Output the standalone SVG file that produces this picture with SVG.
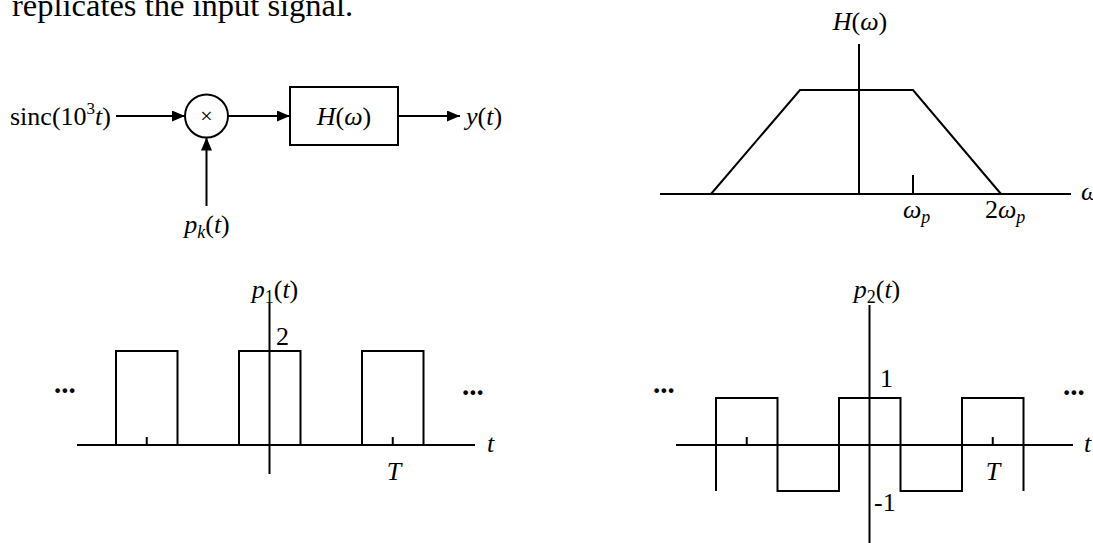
<svg xmlns="http://www.w3.org/2000/svg" width="1093" height="543" viewBox="0 0 1093 543">
<style>
.ln{stroke:#000;stroke-width:2;fill:none}
.t{font-family:"Liberation Serif","Times New Roman",serif;font-size:26px;fill:#000}
.i{font-style:italic}
.dots{font-family:"Liberation Serif","Times New Roman",serif;font-size:29px;font-weight:bold;fill:#000}
</style>
<defs>
<marker id="ah" markerUnits="userSpaceOnUse" markerWidth="13" markerHeight="11" refX="13" refY="5.5" orient="auto">
<path d="M0,0 L13,5.5 L0,11 z" fill="#000"/>
</marker>
</defs>
<rect width="1093" height="543" fill="#fff"/>
<text x="12" y="16" class="t" style="font-size:32.5px">replicates the input signal.</text>

<g id="input-label"><text x="10" y="125" class="t">sinc(10<tspan font-size="17" dy="-11">3</tspan><tspan dy="11" class="i">t</tspan>)</text></g>
<g id="multiplier"><circle cx="206.5" cy="116" r="21.5" class="ln"/><text x="206.5" y="123" class="t" text-anchor="middle" style="font-size:22px">×</text></g>
<g id="filter"><rect x="290" y="87" width="108" height="58" class="ln"/><text x="344" y="125" class="t" text-anchor="middle"><tspan class="i">H</tspan>(<tspan class="i">ω</tspan>)</text></g>
<g id="output-label"><text x="466" y="125" class="t"><tspan class="i">y</tspan>(<tspan class="i">t</tspan>)</text></g>
<g id="pk-label"><text x="207" y="233" class="t" text-anchor="middle"><tspan class="i">p</tspan><tspan class="i" font-size="18" dy="5">k</tspan><tspan dy="-5">(</tspan><tspan class="i">t</tspan>)</text></g>
<g id="connectors">
<line x1="116" y1="116" x2="185" y2="116" class="ln" marker-end="url(#ah)"/>
<line x1="228" y1="116" x2="290" y2="116" class="ln" marker-end="url(#ah)"/>
<line x1="398" y1="116" x2="460" y2="116" class="ln" marker-end="url(#ah)"/>
<line x1="206.5" y1="206" x2="206.5" y2="137.5" class="ln" marker-end="url(#ah)"/>
</g>

<g id="H-plot">
<line x1="859" y1="44" x2="859" y2="194" class="ln"/>
<line x1="660" y1="194" x2="1071" y2="194" class="ln"/>
<polyline points="711,194 800,90 913,90 1001,194" class="ln"/>
<line x1="913" y1="175" x2="913" y2="194" class="ln"/>
<text x="860" y="30" class="t" text-anchor="middle"><tspan class="i">H</tspan>(<tspan class="i">ω</tspan>)</text>
<text x="903" y="218" class="t"><tspan class="i">ω</tspan><tspan class="i" font-size="18" dy="5">p</tspan></text>
<text x="985" y="218" class="t">2<tspan class="i">ω</tspan><tspan class="i" font-size="18" dy="5">p</tspan></text>
<text x="1081" y="200" class="t i">ω</text>
</g>

<g id="p1-plot">
<line x1="77" y1="445" x2="475" y2="445" class="ln"/>
<line x1="269.5" y1="303" x2="269.5" y2="474" class="ln"/>
<path d="M116,445 V351 H177.5 V445 M239,445 V351 H300.5 V445 M362,445 V351 H423.5 V445" class="ln"/>
<line x1="146.75" y1="437" x2="146.75" y2="445" class="ln"/>
<line x1="392.75" y1="437" x2="392.75" y2="445" class="ln"/>
<text x="275" y="298" class="t" text-anchor="middle"><tspan class="i">p</tspan><tspan font-size="18" dy="5">1</tspan><tspan dy="-5">(</tspan><tspan class="i">t</tspan>)</text>
<text x="276" y="345" class="t">2</text>
<text x="487" y="452" class="t i">t</text>
<text x="394" y="480" class="t i" text-anchor="middle">T</text>
<text x="54" y="393" class="dots">...</text>
<text x="462" y="395" class="dots">...</text>
</g>

<g id="p2-plot">
<line x1="676" y1="445" x2="1073" y2="445" class="ln"/>
<line x1="869.5" y1="305" x2="869.5" y2="543" class="ln"/>
<path d="M716,491 V398 H777.5 V491 H839 V398 H900.5 V491 H962 V398 H1023.5 V491" class="ln"/>
<line x1="746.75" y1="437" x2="746.75" y2="445" class="ln"/>
<line x1="992.75" y1="437" x2="992.75" y2="445" class="ln"/>
<text x="877" y="298" class="t" text-anchor="middle"><tspan class="i">p</tspan><tspan font-size="18" dy="5">2</tspan><tspan dy="-5">(</tspan><tspan class="i">t</tspan>)</text>
<text x="880" y="387" class="t">1</text>
<text x="874" y="511" class="t">-1</text>
<text x="993" y="480" class="t i" text-anchor="middle">T</text>
<text x="1084" y="452" class="t i">t</text>
<text x="653" y="393" class="dots">...</text>
<text x="1063" y="395" class="dots">...</text>
</g>
</svg>
